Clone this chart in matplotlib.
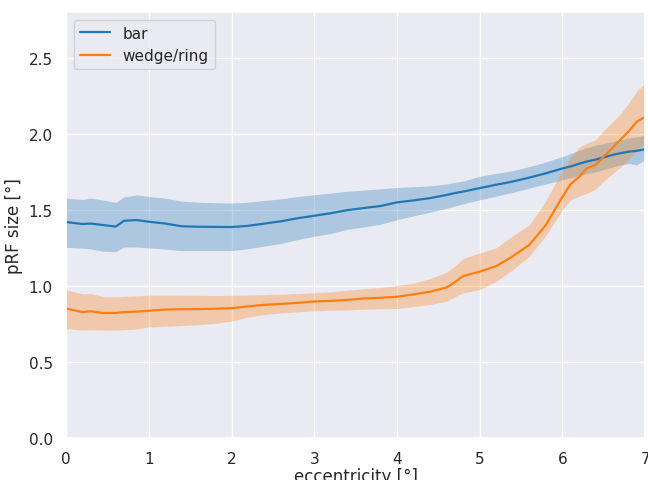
import numpy as np
import matplotlib
matplotlib.use("agg")
import matplotlib.pyplot as plt
import seaborn as sns

# eccentricity samples [deg]
ecc = [0.0, 0.2, 0.3, 0.45, 0.6, 0.7, 0.85, 1.0, 1.2, 1.4, 1.6, 1.8, 2.0, 2.2,
       2.4, 2.6, 2.8, 3.0, 3.2, 3.4, 3.6, 3.8, 4.0, 4.2, 4.4, 4.6, 4.7, 4.8,
       5.0, 5.2, 5.4, 5.6, 5.8, 6.0, 6.1, 6.2, 6.3, 6.4, 6.5, 6.6, 6.7, 6.8,
       6.9, 7.0]

# bar stimulus: mean pRF size and band
bar_mean = [1.420, 1.407, 1.410, 1.400, 1.390, 1.428, 1.433, 1.422, 1.410, 1.392,
            1.389, 1.388, 1.387, 1.395, 1.410, 1.425, 1.445, 1.461, 1.478, 1.498,
            1.512, 1.525, 1.549, 1.562, 1.577, 1.598, 1.610, 1.620, 1.643, 1.665,
            1.686, 1.712, 1.740, 1.772, 1.785, 1.803, 1.818, 1.830, 1.845, 1.860,
            1.872, 1.882, 1.888, 1.898]
bar_hi = [1.577, 1.568, 1.577, 1.565, 1.549, 1.585, 1.598, 1.588, 1.577, 1.557,
          1.550, 1.547, 1.545, 1.550, 1.562, 1.572, 1.588, 1.599, 1.610, 1.622,
          1.630, 1.638, 1.647, 1.652, 1.658, 1.670, 1.680, 1.690, 1.720, 1.740,
          1.757, 1.784, 1.815, 1.850, 1.870, 1.890, 1.910, 1.925, 1.935, 1.948,
          1.960, 1.972, 1.980, 1.990]
bar_lo = [1.254, 1.248, 1.243, 1.228, 1.225, 1.256, 1.256, 1.250, 1.242, 1.232,
          1.232, 1.232, 1.232, 1.245, 1.262, 1.280, 1.305, 1.326, 1.345, 1.372,
          1.388, 1.405, 1.435, 1.460, 1.485, 1.510, 1.525, 1.540, 1.566, 1.590,
          1.615, 1.643, 1.670, 1.697, 1.710, 1.725, 1.738, 1.750, 1.765, 1.780,
          1.795, 1.805, 1.795, 1.830]

# wedge/ring stimulus: mean pRF size and band
wr_mean = [0.852, 0.828, 0.834, 0.822, 0.823, 0.828, 0.831, 0.837, 0.845, 0.847,
           0.848, 0.850, 0.854, 0.866, 0.876, 0.882, 0.889, 0.898, 0.902, 0.908,
           0.918, 0.922, 0.929, 0.945, 0.962, 0.990, 1.025, 1.065, 1.094, 1.130,
           1.195, 1.270, 1.400, 1.585, 1.670, 1.715, 1.775, 1.795, 1.850, 1.905,
           1.960, 2.015, 2.080, 2.110]
wr_hi = [0.976, 0.948, 0.950, 0.930, 0.928, 0.932, 0.935, 0.939, 0.940, 0.939,
         0.938, 0.937, 0.938, 0.940, 0.943, 0.946, 0.950, 0.955, 0.962, 0.972,
         0.982, 0.990, 1.003, 1.018, 1.048, 1.090, 1.130, 1.180, 1.217, 1.250,
         1.330, 1.400, 1.560, 1.760, 1.845, 1.910, 1.940, 1.960, 2.020, 2.075,
         2.130, 2.200, 2.280, 2.330]
wr_lo = [0.719, 0.710, 0.712, 0.710, 0.710, 0.712, 0.718, 0.730, 0.735, 0.740,
         0.745, 0.754, 0.769, 0.795, 0.813, 0.822, 0.830, 0.836, 0.840, 0.843,
         0.847, 0.850, 0.852, 0.865, 0.878, 0.900, 0.930, 0.955, 0.976, 1.030,
         1.107, 1.195, 1.330, 1.500, 1.566, 1.590, 1.610, 1.635, 1.690, 1.735,
         1.780, 1.830, 1.890, 1.940]

sns.set_theme(style="darkgrid")
blue = "#1f77b4"
orange = "#ff7f0e"

fig = plt.figure(figsize=(6.48, 4.81), dpi=100)
ax = fig.add_axes([0.102, 0.087, 0.8935, 0.886])

ax.plot(ecc, bar_mean, color=blue, lw=1.6, label="bar")
ax.fill_between(ecc, bar_lo, bar_hi, color=blue, alpha=0.3, lw=0)
ax.plot(ecc, wr_mean, color=orange, lw=1.6, label="wedge/ring")
ax.fill_between(ecc, wr_lo, wr_hi, color=orange, alpha=0.3, lw=0)

ax.set_xlim(0, 7)
ax.set_ylim(0, 2.8)
ax.set_xlabel("eccentricity [°]", labelpad=0.5)
ax.set_ylabel("pRF size [°]")
ax.legend(loc="upper left")

plt.savefig("out.png", dpi=100)
